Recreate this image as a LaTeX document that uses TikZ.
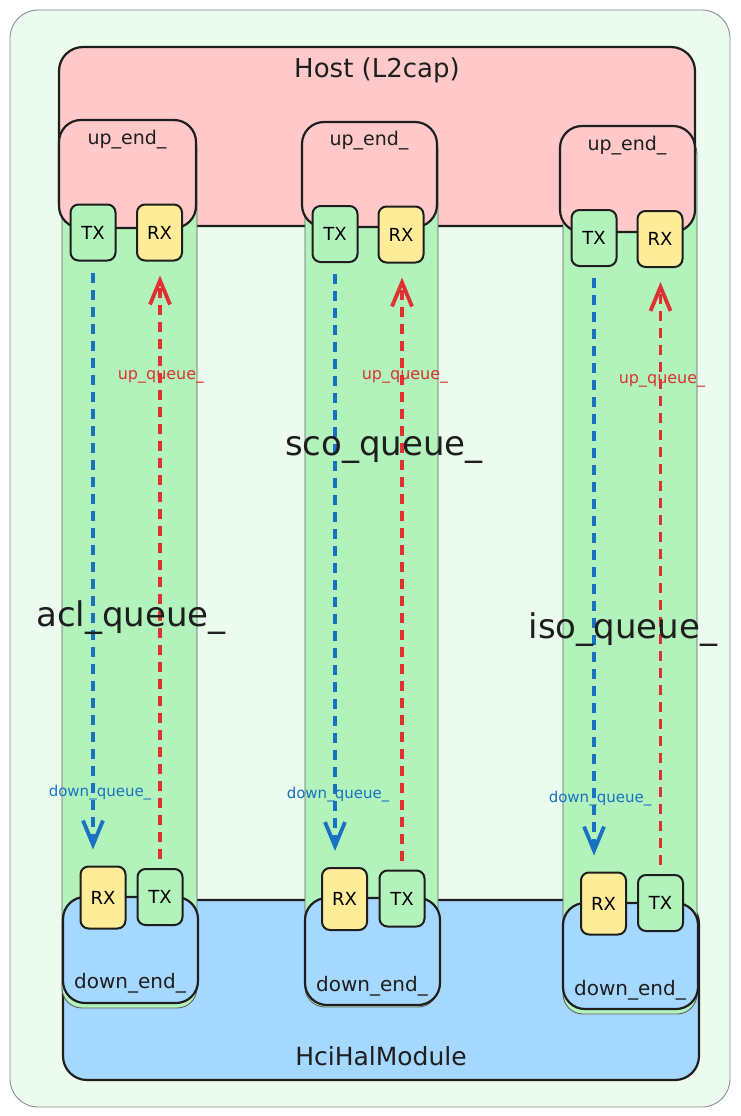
\documentclass[tikz,border=0pt]{standalone}
\usepackage{fontspec}
\setmainfont{DejaVu Sans}
\usetikzlibrary{arrows.meta}
\definecolor{bgGreen}{HTML}{EBFBEE}
\definecolor{frameGray}{HTML}{868E96}
\definecolor{hostRed}{HTML}{FFC9C9}
\definecolor{halBlue}{HTML}{A5D8FF}
\definecolor{laneGreen}{HTML}{B2F2BB}
\definecolor{rxYellow}{HTML}{FFEC99}
\definecolor{ink}{HTML}{1E1E1E}
\definecolor{qBlue}{HTML}{1971C2}
\definecolor{qRed}{HTML}{E03131}
\tikzset{
  frame/.style={
    fill=bgGreen,
    draw=frameGray,
    line width=0.9pt,
    rounded corners=28pt
  },
  module/.style={
    draw=ink,
    line width=2.2pt,
    rounded corners=24pt,
    inner sep=0pt
  },
  lane/.style={
    draw=ink!70,
    line width=0.9pt,
    fill=laneGreen,
    rounded corners=20pt,
    inner sep=0pt
  },
  endbox/.style={
    draw=ink,
    line width=2.2pt,
    rounded corners=22pt,
    inner sep=0pt
  },
  port/.style={
    draw=ink,
    line width=2pt,
    rounded corners=8pt,
    minimum width=45pt,
    minimum height=56pt,
    inner sep=0pt,
    font=\fontsize{18}{20}\selectfont
  },
  txbox/.style={port, fill=laneGreen},
  rxbox/.style={port, fill=rxYellow},
  downflow/.style={
    draw=qBlue,
    line width=3.8pt,
    dash pattern=on 10pt off 7pt,
    -{Straight Barb[length=24pt,width=20pt,line width=3.8pt]}
  },
  upflow/.style={
    downflow,
    draw=qRed
  },
  endlabel/.style={text=ink, font=\fontsize{19}{22}\selectfont},
  qlabel/.style={text=ink, font=\fontsize{34}{38}\selectfont},
  uplabel/.style={text=qRed, font=\fontsize{16}{18}\selectfont},
  downlabel/.style={text=qBlue, font=\fontsize{15}{18}\selectfont}
}
\begin{document}
\begin{tikzpicture}[x=1pt,y=-1pt]
  \useasboundingbox (0,0) rectangle (740,1116);
  \draw[frame] (10,10) rectangle (730,1107);

  % host and hal
  \node[module, fill=hostRed, minimum width=636pt, minimum height=179pt] (host) at (377,136.5) {};
  \node[module, fill=halBlue, minimum width=636pt, minimum height=180pt] (hal) at (381,990) {};
  \node[text=ink, font=\fontsize{26}{30}\selectfont] (hosttitle) at (377,70) {Host (L2cap)};
  \node[text=ink, font=\fontsize{25}{30}\selectfont] (haltitle) at (381,1056) {HciHalModule};

  % lanes
  \node[lane, minimum width=135pt, minimum height=880pt] (lane1) at (129.5,568) {};
  \node[lane, minimum width=133pt, minimum height=877pt] (lane2) at (371.5,568.5) {};
  \node[lane, minimum width=134pt, minimum height=880pt] (lane3) at (630,574) {};

  % up ends
  \node[endbox, fill=hostRed, minimum width=137pt, minimum height=108pt] (up1) at (127.5,174) {};
  \node[endbox, fill=hostRed, minimum width=135pt, minimum height=105pt] (up2) at (369.5,174.5) {};
  \node[endbox, fill=hostRed, minimum width=135pt, minimum height=106pt] (up3) at (627.5,179) {};
  \node[endlabel] (uptext1) at (127,140) {up\_end\_};
  \node[endlabel] (uptext2) at (369,141) {up\_end\_};
  \node[endlabel] (uptext3) at (627,146) {up\_end\_};

  % down ends
  \node[endbox, fill=halBlue, minimum width=135pt, minimum height=106pt] (down1) at (130.5,950) {};
  \node[endbox, fill=halBlue, minimum width=135pt, minimum height=107pt] (down2) at (372.5,951.5) {};
  \node[endbox, fill=halBlue, minimum width=135pt, minimum height=106pt] (down3) at (630.5,956) {};
  \node[endlabel, font=\fontsize{20}{22}\selectfont] (downtext1) at (130,983) {down\_end\_};
  \node[endlabel, font=\fontsize{20}{22}\selectfont] (downtext2) at (372,986) {down\_end\_};
  \node[endlabel, font=\fontsize{20}{22}\selectfont] (downtext3) at (630,990) {down\_end\_};

  % ports
  \node[txbox] (tx1up) at (93,232.5) {TX};
  \node[rxbox] (rx1up) at (159.5,232.5) {RX};
  \node[txbox] (tx2up) at (335,234) {TX};
  \node[rxbox] (rx2up) at (401,234.5) {RX};
  \node[txbox] (tx3up) at (594,238) {TX};
  \node[rxbox] (rx3up) at (660,239) {RX};
  \node[rxbox, minimum height=62pt] (rx1dn) at (103,897.5) {RX};
  \node[txbox] (tx1dn) at (160,897) {TX};
  \node[rxbox, minimum height=62pt] (rx2dn) at (344.5,899) {RX};
  \node[txbox] (tx2dn) at (402,898.5) {TX};
  \node[rxbox, minimum height=62pt] (rx3dn) at (603.5,903.5) {RX};
  \node[txbox] (tx3dn) at (660.5,903) {TX};

  % queues
  \draw[downflow, shorten <=11pt, shorten >=16pt] (tx1up.south) -- (tx1up.south |- rx1dn.north);
  \draw[downflow, shorten <=11pt, shorten >=16pt] (tx2up.south) -- (tx2up.south |- rx2dn.north);
  \draw[downflow, shorten <=11pt, shorten >=16pt] (tx3up.south) -- (tx3up.south |- rx3dn.north);
  \draw[upflow, shorten <=9pt, shorten >=14pt] (tx1dn.north) -- (tx1dn.north |- rx1up.south);
  \draw[upflow, shorten <=9pt, shorten >=14pt] (tx2dn.north) -- (tx2dn.north |- rx2up.south);
  \draw[upflow, shorten <=9pt, shorten >=14pt] (tx3dn.north) -- (tx3dn.north |- rx3up.south);

  \node[uplabel] (upq1) at (161,377) {up\_queue\_};
  \node[uplabel] (upq2) at (405,377) {up\_queue\_};
  \node[uplabel] (upq3) at (662,381) {up\_queue\_};
  \node[downlabel] (downq1) at (100,793) {down\_queue\_};
  \node[downlabel] (downq2) at (338,795) {down\_queue\_};
  \node[downlabel] (downq3) at (600,799) {down\_queue\_};

  \node[qlabel] (aclq) at (131,618) {acl\_queue\_};
  \node[qlabel] (scoq) at (384,450) {sco\_queue\_};
  \node[qlabel] (isoq) at (623,630) {iso\_queue\_};
\end{tikzpicture}
\end{document}
